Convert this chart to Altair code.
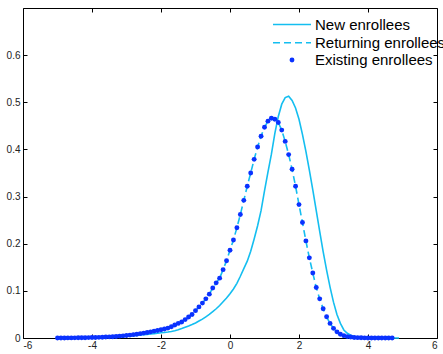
import altair as alt
import pandas as pd

# Existing / returning enrollees (sampled every 0.1 from -5 to 4.7)
x_exist = [-5.0, -4.9, -4.8, -4.7, -4.6, -4.5, -4.4, -4.3, -4.2, -4.1,
           -4.0, -3.9, -3.8, -3.7, -3.6, -3.5, -3.4, -3.3, -3.2, -3.1,
           -3.0, -2.9, -2.8, -2.7, -2.6, -2.5, -2.4, -2.3, -2.2, -2.1,
           -2.0, -1.9, -1.8, -1.7, -1.6, -1.5, -1.4, -1.3, -1.2, -1.1,
           -1.0, -0.9, -0.8, -0.7, -0.6, -0.5, -0.4, -0.3, -0.2, -0.1,
           0.0, 0.1, 0.2, 0.3, 0.4, 0.5, 0.6, 0.7, 0.8, 0.9,
           1.0, 1.1, 1.2, 1.3, 1.4, 1.5, 1.6, 1.7, 1.8, 1.9,
           2.0, 2.1, 2.2, 2.3, 2.4, 2.5, 2.6, 2.7, 2.8, 2.9,
           3.0, 3.1, 3.2, 3.3, 3.4, 3.5, 3.6, 3.7, 3.8, 3.9,
           4.0, 4.1, 4.2, 4.3, 4.4, 4.5, 4.6, 4.7]
y_exist = [0.0000, 0.0001, 0.0001, 0.0002, 0.0002, 0.0003, 0.0004, 0.0005, 0.0006, 0.0008,
           0.0010, 0.0012, 0.0014, 0.0017, 0.0020, 0.0024, 0.0028, 0.0033, 0.0039, 0.0046,
           0.0054, 0.0062, 0.0071, 0.0081, 0.0092, 0.0104, 0.0117, 0.0131, 0.0146, 0.0160,
           0.0175, 0.0190, 0.0210, 0.0240, 0.0275, 0.0310, 0.0340, 0.0390, 0.0445, 0.0500,
           0.0580, 0.0660, 0.0740, 0.0830, 0.0930, 0.1060, 0.1170, 0.1270, 0.1450, 0.1640,
           0.1860, 0.2080, 0.2340, 0.2620, 0.2920, 0.3220, 0.3500, 0.3790, 0.4050, 0.4280,
           0.4470, 0.4600, 0.4660, 0.4640, 0.4570, 0.4410, 0.4170, 0.3890, 0.3580, 0.3220,
           0.2830, 0.2450, 0.2060, 0.1700, 0.1380, 0.1070, 0.0830, 0.0620, 0.0450, 0.0310,
           0.0205, 0.0130, 0.0080, 0.0050, 0.0030, 0.0020, 0.0012, 0.0007, 0.0004, 0.0002,
           0.0001, 0.0001, 0.0000, 0.0000, 0.0000, 0.0000, 0.0000, 0.0000]
# Returning enrollees coincide with existing enrollees in the picture
y_return = list(y_exist)

# New enrollees (sampled every 0.1 from -5 to 4.9)
x_new = [-5.0, -4.9, -4.8, -4.7, -4.6, -4.5, -4.4, -4.3, -4.2, -4.1,
         -4.0, -3.9, -3.8, -3.7, -3.6, -3.5, -3.4, -3.3, -3.2, -3.1,
         -3.0, -2.9, -2.8, -2.7, -2.6, -2.5, -2.4, -2.3, -2.2, -2.1,
         -2.0, -1.9, -1.8, -1.7, -1.6, -1.5, -1.4, -1.3, -1.2, -1.1,
         -1.0, -0.9, -0.8, -0.7, -0.6, -0.5, -0.4, -0.3, -0.2, -0.1,
         0.0, 0.1, 0.2, 0.3, 0.4, 0.5, 0.6, 0.7, 0.8, 0.9,
         1.0, 1.1, 1.2, 1.3, 1.4, 1.5, 1.6, 1.7, 1.8, 1.9,
         2.0, 2.1, 2.2, 2.3, 2.4, 2.5, 2.6, 2.7, 2.8, 2.9,
         3.0, 3.1, 3.2, 3.3, 3.4, 3.5, 3.6, 3.7, 3.8, 3.9,
         4.0, 4.1, 4.2, 4.3, 4.4, 4.5, 4.6, 4.7, 4.8, 4.9]
y_new = [0.0000, 0.0001, 0.0002, 0.0003, 0.0004, 0.0005, 0.0006, 0.0007, 0.0008, 0.0009,
         0.0010, 0.0012, 0.0014, 0.0016, 0.0018, 0.0021, 0.0024, 0.0027, 0.0031, 0.0035,
         0.0040, 0.0045, 0.0050, 0.0056, 0.0062, 0.0069, 0.0076, 0.0084, 0.0092, 0.0101,
         0.0110, 0.0118, 0.0127, 0.0138, 0.0153, 0.0175, 0.0200, 0.0227, 0.0255, 0.0285,
         0.0320, 0.0360, 0.0400, 0.0450, 0.0500, 0.0560, 0.0620, 0.0690, 0.0770, 0.0850,
         0.0940, 0.1040, 0.1160, 0.1310, 0.1470, 0.1630, 0.1840, 0.2100, 0.2380, 0.2700,
         0.3120, 0.3520, 0.3900, 0.4340, 0.4700, 0.4960, 0.5100, 0.5130, 0.5040, 0.4880,
         0.4640, 0.4320, 0.3960, 0.3560, 0.3140, 0.2700, 0.2260, 0.1830, 0.1440, 0.1080,
         0.0760, 0.0500, 0.0310, 0.0170, 0.0100, 0.0060, 0.0030, 0.0020, 0.0010, 0.0006,
         0.0003, 0.0002, 0.0001, 0.0001, 0.0000, 0.0000, 0.0000, 0.0000, 0.0000, 0.0000]

x_ticks = [-6, -4, -2, 0, 2, 4, 6]
y_ticks = [0, 0.1, 0.2, 0.3, 0.4, 0.5, 0.6]
labels = ["New enrollees", "Returning enrollees", "Existing enrollees"]

CYAN = "#14BEF0"
BLUE = "#0A32FF"

df_e = pd.DataFrame({"x": x_exist, "y": y_exist})
df_r = pd.DataFrame({"x": x_exist, "y": y_return})
df_n = pd.DataFrame({"x": x_new, "y": y_new})
one = pd.DataFrame({"k": [0]})

xs = alt.Scale(domain=[-6, 6], nice=False, zero=False)
ys = alt.Scale(domain=[0, 0.7], nice=False, zero=False)

common = dict(domain=False, grid=False, tickSize=4, offset=-4, title=None,
              tickColor="black", labelFont="Liberation Sans", labelFontSize=10,
              labelColor="#222222", labelExpr="'' + datum.value")

ax_b = alt.Axis(orient="bottom", values=x_ticks, labelPadding=2, **common)
ax_l = alt.Axis(orient="left", values=y_ticks, labelPadding=3, **common)
ax_t = alt.Axis(orient="top", values=x_ticks, labels=False, **common)
ax_r = alt.Axis(orient="right", values=y_ticks, labels=False, **common)

new_line = alt.Chart(df_n).mark_line(color=CYAN, strokeWidth=1.6).encode(
    x=alt.X("x:Q", scale=xs, axis=ax_b),
    y=alt.Y("y:Q", scale=ys, axis=ax_l),
)
ret_line = alt.Chart(df_r).mark_line(color=CYAN, strokeWidth=1.6, strokeDash=[7, 4]).encode(
    x=alt.X("x:Q", scale=xs, axis=None),
    y=alt.Y("y:Q", scale=ys, axis=None),
)
exist_pts = alt.Chart(df_e).mark_circle(color=BLUE, size=24, opacity=1).encode(
    x=alt.X("x:Q", scale=xs, axis=None),
    y=alt.Y("y:Q", scale=ys, axis=None),
)
frame = alt.Chart(df_e).mark_circle(opacity=0).encode(
    x=alt.X("x:Q", scale=xs, axis=ax_t),
    y=alt.Y("y:Q", scale=ys, axis=ax_r),
)

# Legend (drawn inside the top right corner, as in the original)
rows = [16.5, 34.7, 52.0]
lx0, lx1, tx = 250, 288, 292
leg_new = alt.Chart(one).mark_rule(color=CYAN, strokeWidth=1.6).encode(
    x=alt.value(lx0), x2=alt.value(lx1), y=alt.value(rows[0]))
leg_ret = alt.Chart(one).mark_rule(color=CYAN, strokeWidth=1.6, strokeDash=[7, 4]).encode(
    x=alt.value(lx0), x2=alt.value(lx1), y=alt.value(rows[1]))
leg_ex = alt.Chart(one).mark_circle(color=BLUE, size=24, opacity=1).encode(
    x=alt.value((lx0 + lx1) / 2), y=alt.value(rows[2]))
texts = [
    alt.Chart(one).mark_text(align="left", baseline="middle", font="Liberation Sans",
                             fontSize=15, color="black").encode(
        x=alt.value(tx), y=alt.value(rows[i]), text=alt.value(labels[i]))
    for i in range(3)
]

chart = alt.layer(
    new_line, ret_line, exist_pts, frame, leg_new, leg_ret, leg_ex, *texts
).resolve_axis(
    x="independent", y="independent"
).properties(
    width=414, height=330,
    autosize=alt.AutoSizeParams(type="none"),
    padding={"left": 23, "top": 8, "right": 6, "bottom": 16},
    background="white",
).configure_view(stroke="black", strokeWidth=1)

chart.save("out.html", embed_options={"renderer": "svg", "actions": False})
